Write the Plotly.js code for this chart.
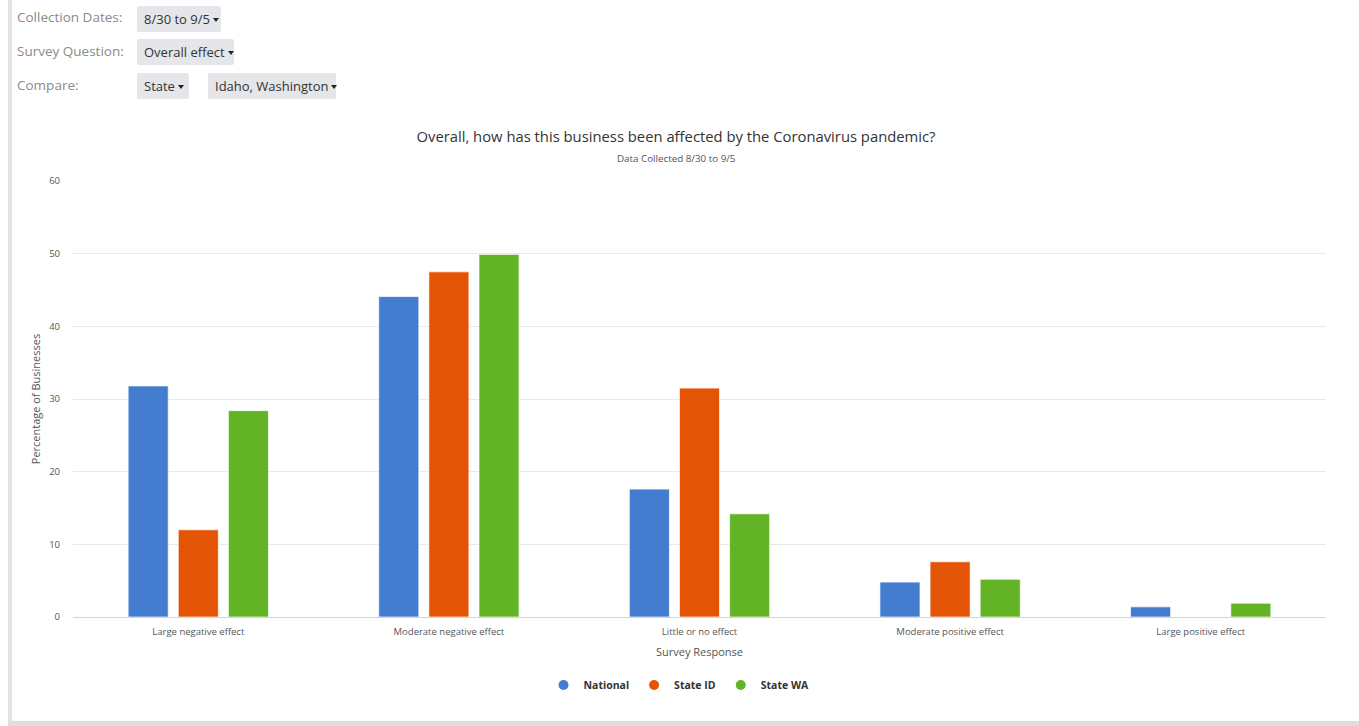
<!DOCTYPE html>
<html>
<head>
<meta charset="utf-8">
<script src="https://cdn.plot.ly/plotly-3.0.1.min.js"></script>
<style>
  html, body { margin:0; padding:0; width:1359px; height:726px; overflow:hidden; background:#fff; font-family:"Open Sans", "Noto Sans", sans-serif; }
  #leftbar { position:absolute; left:8px; top:0; width:4px; height:726px; background:#e3e3e3; }
  #bottombar { position:absolute; left:8px; top:721px; width:1351px; height:5px; background:#dedede; }
  .lbl { position:absolute; left:17px; font-size:13.5px; color:#8a8a8a; }
  .btn { position:absolute; height:26px; line-height:26px; background:#e4e6e9; color:#333; font-size:13px; padding:0 7px; box-sizing:border-box; border-radius:2px; white-space:nowrap; }
  .btn .caret { display:inline-block; margin-left:3px; width:0; height:0; border-left:3.5px solid transparent; border-right:3.5px solid transparent; border-top:4px solid #222; vertical-align:2px; }
  #chart { position:absolute; left:0; top:0; width:1359px; height:726px; }
</style>
</head>
<body>
<div id="chart"></div>
<div id="leftbar"></div>
<div id="bottombar"></div>
<div class="lbl" style="top:8px;">Collection Dates:</div>
<div class="btn" style="left:137px; top:6px; width:84px;">8/30 to 9/5<span class="caret"></span></div>
<div class="lbl" style="top:42px;">Survey Question:</div>
<div class="btn" style="left:137px; top:39px; width:97px;">Overall effect<span class="caret"></span></div>
<div class="lbl" style="top:76px;">Compare:</div>
<div class="btn" style="left:137px; top:73px; width:52px;">State<span class="caret"></span></div>
<div class="btn" style="left:208px; top:73px; width:128px;">Idaho, Washington<span class="caret"></span></div>
<script>
const categories = ["Large negative effect", "Moderate negative effect", "Little or no effect", "Moderate positive effect", "Large positive effect"];
const seriesNames = ["National", "State ID", "State WA"];
const nationalValues = [31.8, 44.1, 17.6, 4.8, 1.4];
const stateIDValues = [12.0, 47.5, 31.5, 7.6, 0];
const stateWAValues = [28.4, 49.9, 14.2, 5.2, 1.9];
const colors = ["#447dcf", "#e35504", "#62b426"];
const yTicks = [0, 10, 20, 30, 40, 50, 60];

const FONT = '"Open Sans", "Noto Sans", sans-serif';
const allValues = [nationalValues, stateIDValues, stateWAValues];

const traces = [];
allValues.forEach((vals, i) => {
  traces.push({
    type: 'bar', x: categories, y: vals, name: seriesNames[i],
    marker: { color: colors[i], line: { color: 'rgba(255,255,255,0.7)', width: 1 } },
    showlegend: false, hoverinfo: 'x+y+name'
  });
});
allValues.forEach((vals, i) => {
  traces.push({
    type: 'scatter', mode: 'markers', x: [null], y: [null], name: seriesNames[i],
    marker: { color: colors[i], size: 10, symbol: 'circle' },
    showlegend: true, hoverinfo: 'skip'
  });
});

const layout = {
  width: 1359, height: 726,
  margin: { l: 73, r: 33, t: 181, b: 109, pad: 0 },
  paper_bgcolor: 'rgba(0,0,0,0)', plot_bgcolor: '#fff',
  font: { family: FONT, color: '#666' },
  title: {
    text: 'Overall, how has this business been affected by the Coronavirus pandemic?',
    font: { family: FONT, size: 14.8, color: '#333' },
    x: 676/1359, xanchor: 'center', xref: 'container',
    y: 1 - 137/726, yref: 'container', yanchor: 'middle'
  },
  annotations: [{
    text: 'Data Collected 8/30 to 9/5', xref: 'paper', yref: 'paper',
    x: (676 - 73)/1253, y: 1 + 23/436, xanchor: 'center', yanchor: 'middle', showarrow: false,
    font: { family: FONT, size: 9.8, color: '#555' }
  }],
  barmode: 'group', bargap: 0.4, bargroupgap: 0.2,
  xaxis: {
    type: 'category', showgrid: false, showline: true, linecolor: '#ccd6eb', linewidth: 1,
    ticks: '', tickfont: { size: 9.5, color: '#555' }, ticklabelstandoff: 6,
    title: { text: 'Survey Response', font: { size: 11, color: '#555' }, standoff: 10 },
    fixedrange: true
  },
  yaxis: {
    range: [0, 60], tickvals: yTicks, ticktext: yTicks.map(String),
    showgrid: true, gridcolor: '#e9e9e9', gridwidth: 1, zeroline: false, showline: false,
    ticks: '', tickfont: { size: 9.5, color: '#555' }, ticklabelstandoff: 12,
    title: { text: 'Percentage of Businesses', font: { size: 11, color: '#555' }, standoff: 6 },
    fixedrange: true
  },
  legend: {
    orientation: 'h', x: (679 - 73)/1253, xanchor: 'center', y: -68/436, yanchor: 'middle',
    font: { family: FONT, size: 10.5, color: '#333', weight: 'bold' },
    itemwidth: 30, itemclick: false, itemdoubleclick: false
  },
  showlegend: true
};

Plotly.newPlot('chart', traces, layout, { displayModeBar: false, staticPlot: false });
</script>
</body>
</html>
